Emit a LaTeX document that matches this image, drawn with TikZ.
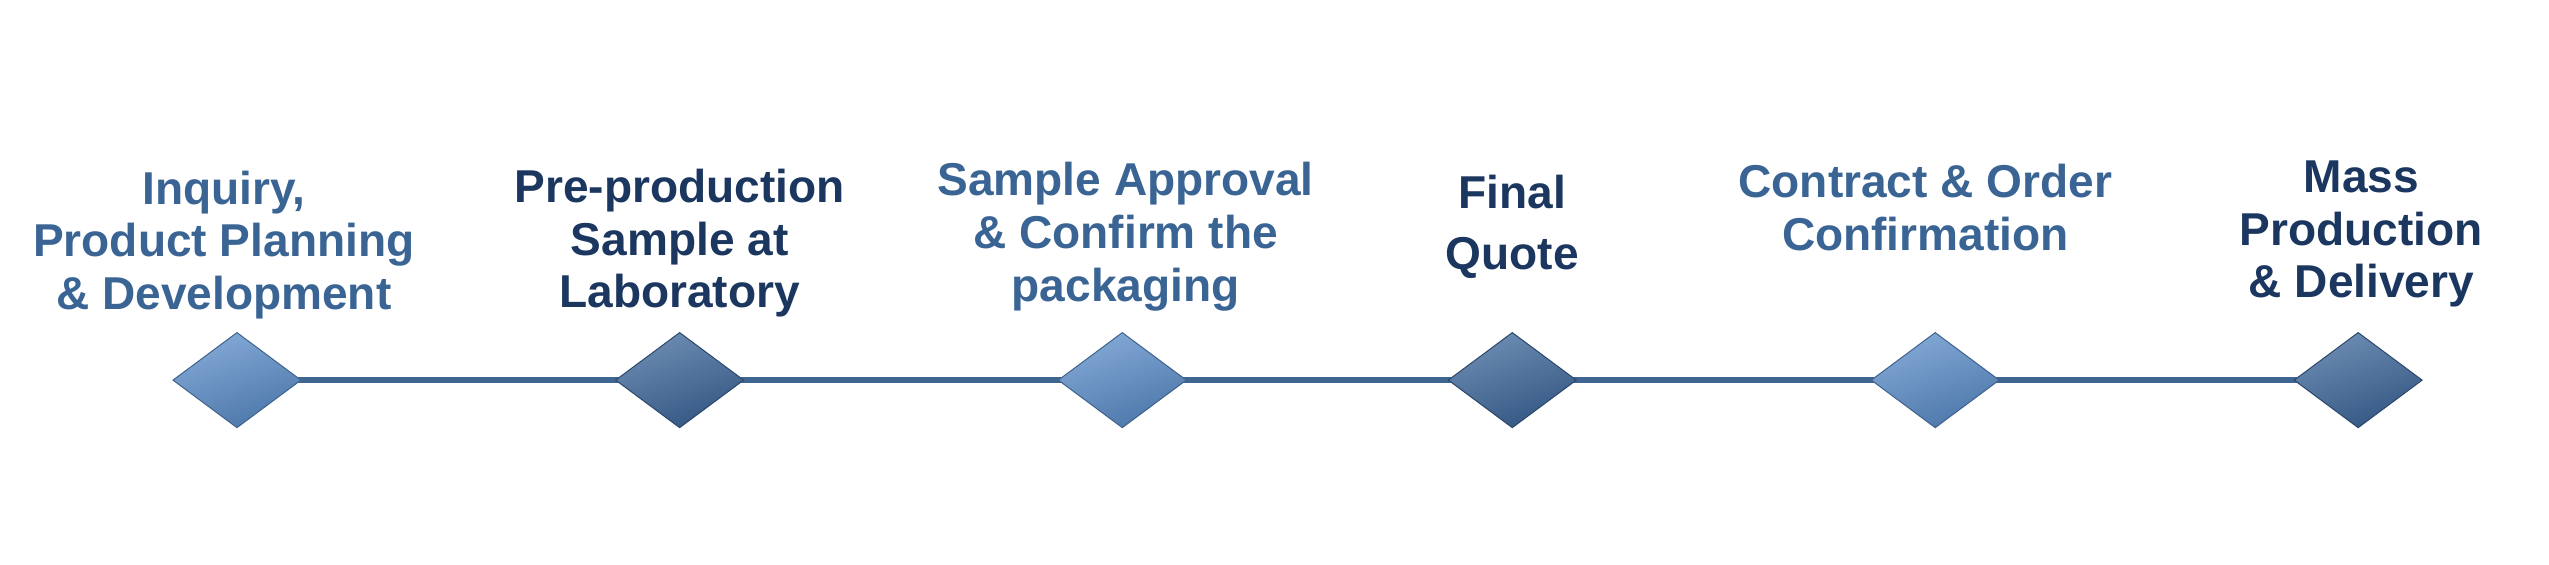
\documentclass[tikz,border=0pt]{standalone}
\usepackage{fontspec}
\setmainfont{Liberation Sans}
\usetikzlibrary{shapes.geometric,backgrounds}
\definecolor{lightd}{HTML}{5A8CC8}
\definecolor{darkd}{HTML}{3C6699}
\definecolor{lightt}{HTML}{3A6494}
\definecolor{darkt}{HTML}{1B365F}
\definecolor{lineblue}{HTML}{3F6591}
\begin{document}
\begin{tikzpicture}[x=1pt,y=1pt,
  dia/.style={diamond,minimum width=78pt,minimum height=58pt,inner sep=0pt,draw=#1!70!black,line width=0.6pt,
    top color=#1!75!white,bottom color=#1!85!black,shading angle=20},
  lbl/.style={font=\bfseries\fontsize{28}{32}\selectfont,align=center,anchor=base},
]
\useasboundingbox (0,0) rectangle (1549,343);
\node[dia=lightd] (d1) at (144,112) {};
\node[dia=darkd]  (d2) at (413,112) {};
\node[dia=lightd] (d3) at (682,112) {};
\node[dia=darkd]  (d4) at (919,112) {};
\node[dia=lightd] (d5) at (1176,112) {};
\node[dia=darkd]  (d6) at (1433,112) {};
\begin{scope}[on background layer]
\draw[lineblue,line width=4pt] (d1.center) -- (d6.center);
\end{scope}
\node[lbl,text=lightt] (t1) at (136,155) {Inquiry,\\Product Planning\\\& Development};
\node[lbl,text=darkt] (t2) at (413,156) {Pre-production\\Sample at\\Laboratory};
\node[lbl,text=lightt] (t3) at (684,160) {Sample Approval\\\& Confirm the\\packaging};
\node[lbl,text=darkt,font=\bfseries\fontsize{28}{37}\selectfont] (t4) at (919,179) {Final\\Quote};
\node[lbl,text=lightt] (t5) at (1170,191) {Contract \& Order\\Confirmation};
\node[lbl,text=darkt] (t6) at (1435,162) {Mass\\Production\\\& Delivery};
\end{tikzpicture}
\end{document}
